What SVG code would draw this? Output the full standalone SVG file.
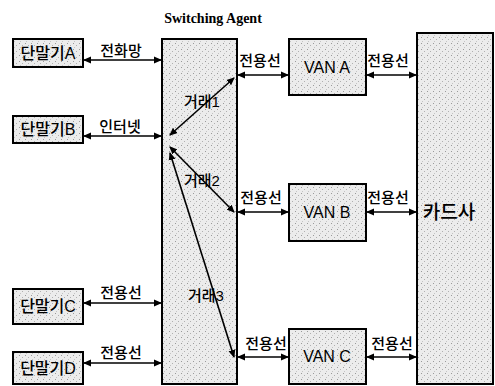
<svg xmlns="http://www.w3.org/2000/svg" width="495" height="386" viewBox="0 0 495 386">
<defs>
<pattern id="speck" width="6" height="6" patternUnits="userSpaceOnUse">
<rect width="6" height="6" fill="#ececec"/>
<rect x="1" y="1" width="1" height="1" fill="#9a9a9a"/>
<rect x="4" y="3" width="1" height="1" fill="#b0b0b0"/>
<rect x="2" y="5" width="1" height="1" fill="#c4c4c4"/>
</pattern>
<marker id="ah" markerWidth="8" markerHeight="8" refX="7" refY="4" orient="auto-start-reverse" markerUnits="userSpaceOnUse">
<path d="M0,0.5 L8,4 L0,7.5 Z" fill="#000"/>
</marker>
<style>
.box{fill:url(#speck);stroke:#000;stroke-width:2}
.t{font-family:"Liberation Sans","Noto Sans CJK KR",sans-serif;font-size:16px;font-weight:500;fill:#000;text-anchor:middle}
.lb{font-family:"Liberation Sans","Noto Sans CJK KR",sans-serif;font-size:15px;font-weight:500;fill:#000;text-anchor:middle}
.c{stroke:#000;stroke-width:1.6;fill:none;marker-start:url(#ah);marker-end:url(#ah)}
.title{font-family:"Liberation Serif",serif;font-size:14px;font-weight:bold;fill:#000;text-anchor:middle}
</style>
</defs>
<rect width="495" height="386" fill="#fff"/>
<text class="title" x="213" y="23">Switching Agent</text>

<g id="agent"><rect class="box" x="162" y="39" width="75" height="345"/></g>
<g id="card"><rect class="box" x="417" y="33" width="76" height="351"/><text class="t" x="449" y="219" style="font-size:19px">카드사</text></g>
<g id="termA"><rect class="box" x="13" y="39" width="70" height="28"/><text class="t" x="48" y="59">단말기A</text></g>
<g id="termB"><rect class="box" x="13" y="116" width="70" height="27"/><text class="t" x="48" y="135">단말기B</text></g>
<g id="termC"><rect class="box" x="13" y="289" width="70" height="35"/><text class="t" x="48" y="312">단말기C</text></g>
<g id="termD"><rect class="box" x="13" y="352" width="70" height="32"/><text class="t" x="48" y="374">단말기D</text></g>
<g id="vanA"><rect class="box" x="289" y="39" width="77" height="56"/><text class="t" x="327" y="73">VAN A</text></g>
<g id="vanB"><rect class="box" x="289" y="184" width="77" height="57"/><text class="t" x="327" y="218">VAN B</text></g>
<g id="vanC"><rect class="box" x="289" y="329" width="77" height="55"/><text class="t" x="327" y="362">VAN C</text></g>

<g id="connectors">
<line class="c" x1="84" y1="60" x2="161" y2="60"/>
<line class="c" x1="84" y1="136" x2="161" y2="136"/>
<line class="c" x1="84" y1="303" x2="161" y2="303"/>
<line class="c" x1="84" y1="363" x2="161" y2="363"/>
<line class="c" x1="238" y1="75" x2="288" y2="75"/>
<line class="c" x1="367" y1="75" x2="416" y2="75"/>
<line class="c" x1="238" y1="212" x2="288" y2="212"/>
<line class="c" x1="367" y1="212" x2="416" y2="212"/>
<line class="c" x1="238" y1="357" x2="288" y2="357"/>
<line class="c" x1="367" y1="357" x2="416" y2="357"/>
<line class="c" x1="234" y1="78" x2="170" y2="135"/>
<line class="c" x1="170" y1="147" x2="234" y2="212"/>
<line class="c" x1="170" y1="153" x2="234" y2="357"/>
</g>

<g id="labels">
<text class="lb" x="121" y="56">전화망</text>
<text class="lb" x="120" y="132">인터넷</text>
<text class="lb" x="121" y="298">전용선</text>
<text class="lb" x="121" y="358">전용선</text>
<text class="lb" x="260" y="66">전용선</text>
<text class="lb" x="388" y="66">전용선</text>
<text class="lb" x="261" y="203">전용선</text>
<text class="lb" x="388" y="203">전용선</text>
<text class="lb" x="266" y="349">전용선</text>
<text class="lb" x="392" y="349">전용선</text>
<text class="lb" x="202" y="107">거래1</text>
<text class="lb" x="202" y="186">거래2</text>
<text class="lb" x="206" y="301">거래3</text>
</g>
</svg>
